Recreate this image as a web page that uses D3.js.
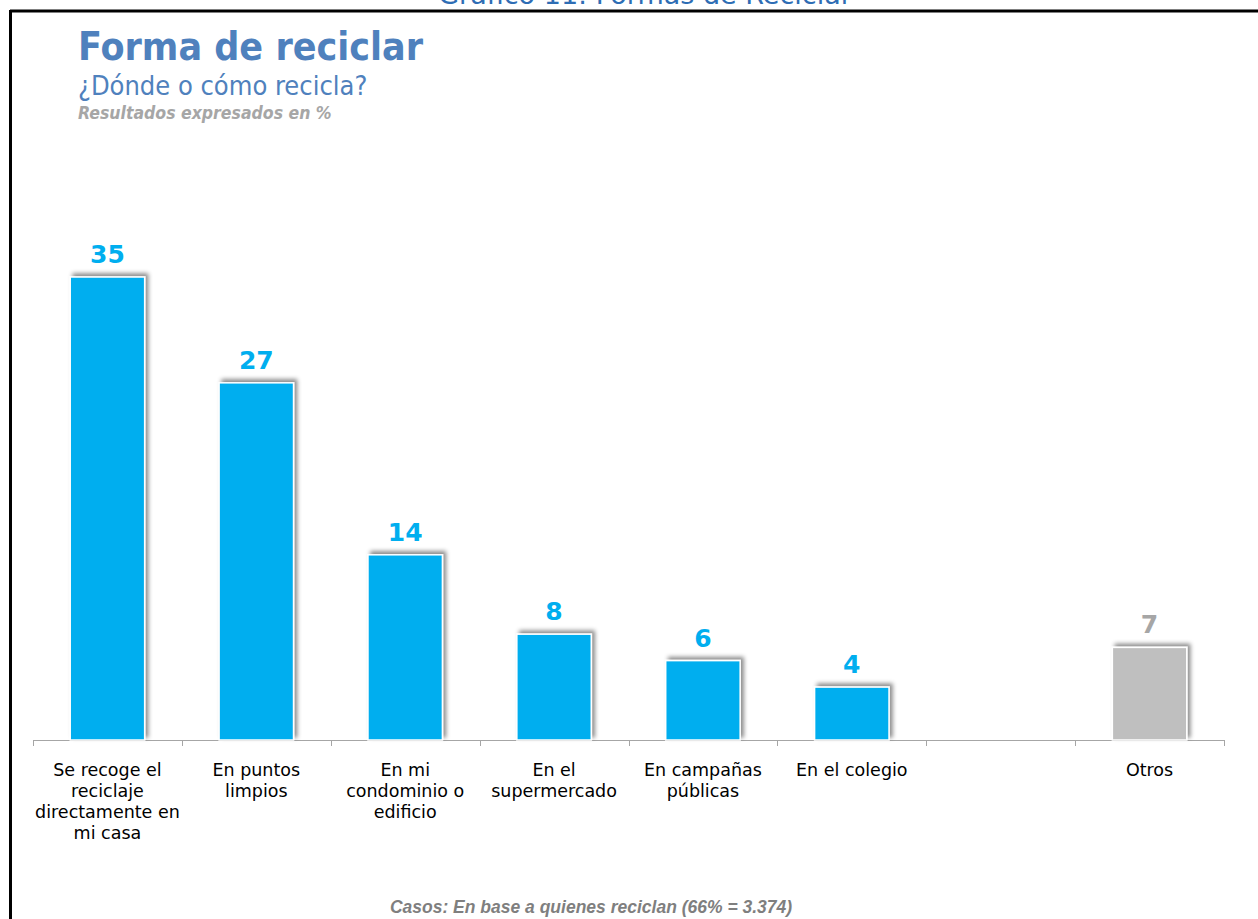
<!DOCTYPE html>
<html>
<head>
<meta charset="utf-8">
<script src="https://cdn.jsdelivr.net/npm/d3@7"></script>
<style>
  html, body { margin: 0; padding: 0; background: #fff; }
  svg { display: block; }
</style>
</head>
<body>
<svg id="chart" width="1258" height="919"></svg>
<script>
// ---- data ----
const categories = ["casa", "puntos", "condominio", "supermercado", "campanas", "colegio", "vacio", "otros"];
const tickLabels = [
  ["Se recoge el", "reciclaje", "directamente en", "mi casa"],
  ["En puntos", "limpios"],
  ["En mi", "condominio o", "edificio"],
  ["En el", "supermercado"],
  ["En campañas", "públicas"],
  ["En el colegio"],
  [],
  ["Otros"]
];
const values = [35, 27, 14, 8, 6, 4, null, 7];
const valueLabels = ["35", "27", "14", "8", "6", "4", "", "7"];
const highlight = [false, false, false, false, false, false, false, true];

const title = "Forma de reciclar";
const subtitle = "¿Dónde o cómo recicla?";
const note = "Resultados expresados en %";
const footer = "Casos: En base a quienes reciclan (66% = 3.374)";
const topCaption = "Gráfico 11: Formas de Reciclar";

// ---- drawing ----
const svg = d3.select("#chart");
const blue = "#00AEEF", grey = "#BFBFBF", greyText = "#A6A6A6", titleBlue = "#4F81BD";

const defs = svg.append("defs");
const f = defs.append("filter").attr("id", "shadow")
  .attr("x", "-20%").attr("y", "-20%").attr("width", "140%").attr("height", "140%");
f.append("feDropShadow").attr("dx", 3).attr("dy", -3).attr("stdDeviation", 2)
  .attr("flood-color", "#000").attr("flood-opacity", 0.45);

// top caption (partly outside the picture, as in the reference)
svg.append("text").attr("x", 645).attr("y", 4).attr("text-anchor", "middle")
  .attr("font-family", "DejaVu Sans, sans-serif").attr("font-size", 27)
  .attr("fill", "#2E6DB4").text(topCaption);

// frame
svg.append("line").attr("x1", 10).attr("x2", 1258).attr("y1", 11).attr("y2", 11)
  .attr("stroke", "#000").attr("stroke-width", 3);
svg.append("line").attr("x1", 10.5).attr("x2", 10.5).attr("y1", 10).attr("y2", 919)
  .attr("stroke", "#000").attr("stroke-width", 3);

// titles
svg.append("text").attr("x", 78).attr("y", 60)
  .attr("font-family", "DejaVu Sans Condensed, DejaVu Sans, sans-serif").attr("font-weight", "bold")
  .attr("font-size", 39).attr("fill", titleBlue).text(title);
svg.append("text").attr("x", 78).attr("y", 95)
  .attr("font-family", "DejaVu Sans Condensed, DejaVu Sans, sans-serif")
  .attr("font-size", 27).attr("fill", titleBlue).text(subtitle);
svg.append("text").attr("x", 78).attr("y", 119)
  .attr("font-family", "DejaVu Sans Condensed, DejaVu Sans, sans-serif").attr("font-weight", "bold")
  .attr("font-style", "italic").attr("font-size", 17.5).attr("fill", greyText).text(note);

// scales
const x = d3.scaleBand().domain(categories).range([33, 1224]).padding(0);
const y = d3.scaleLinear().domain([0, 35]).range([740, 277]);
const barW = x.bandwidth() * 0.5;

// axis
const axis = d3.axisBottom(x).tickSize(6).tickFormat("");
const gAxis = svg.append("g").attr("transform", "translate(0,740)").call(axis);
gAxis.select(".domain").attr("stroke", "#A6A6A6").attr("d", "M33.5,6V0.5H1224.5V6");
gAxis.selectAll(".tick").remove();
const boundaries = categories.map(c => x(c)).concat([x.range()[1]]);
gAxis.selectAll("line.b").data(boundaries).enter().append("line")
  .attr("x1", d => Math.round(d) + 0.5).attr("x2", d => Math.round(d) + 0.5)
  .attr("y1", 0).attr("y2", 6).attr("stroke", "#A6A6A6");

// bars
const data = categories.map((c, i) => ({c, v: values[i], lab: valueLabels[i], hi: highlight[i], t: tickLabels[i]}));
const bars = data.filter(d => d.v != null);
svg.append("g").selectAll("rect").data(bars).enter().append("rect")
  .attr("x", d => x(d.c) + (x.bandwidth() - barW) / 2)
  .attr("y", d => y(d.v))
  .attr("width", barW)
  .attr("height", d => y(0) - y(d.v))
  .attr("fill", d => d.hi ? grey : blue)
  .attr("stroke", "#fff").attr("stroke-width", 1.5)
  .attr("filter", "url(#shadow)");

// value labels
svg.append("g").selectAll("text").data(bars).enter().append("text")
  .attr("x", d => x(d.c) + x.bandwidth() / 2)
  .attr("y", d => y(d.v) - 14)
  .attr("text-anchor", "middle")
  .attr("font-family", "DejaVu Sans, sans-serif").attr("font-weight", "bold")
  .attr("font-size", 25).attr("fill", d => d.hi ? greyText : blue)
  .text(d => d.lab);

// category labels
const gl = svg.append("g");
data.forEach(d => {
  const t = gl.append("text").attr("text-anchor", "middle")
    .attr("font-family", "DejaVu Sans, sans-serif").attr("font-size", 17.5).attr("fill", "#000");
  d.t.forEach((line, k) => {
    t.append("tspan").attr("x", x(d.c) + x.bandwidth() / 2).attr("y", 776 + k * 21).text(line);
  });
});

// footer
svg.append("text").attr("x", 591).attr("y", 913).attr("text-anchor", "middle")
  .attr("font-family", "Liberation Sans, Arial, sans-serif").attr("font-weight", "bold")
  .attr("font-style", "italic").attr("font-size", 17.5).attr("fill", "#7F7F7F").text(footer);
</script>
</body>
</html>
